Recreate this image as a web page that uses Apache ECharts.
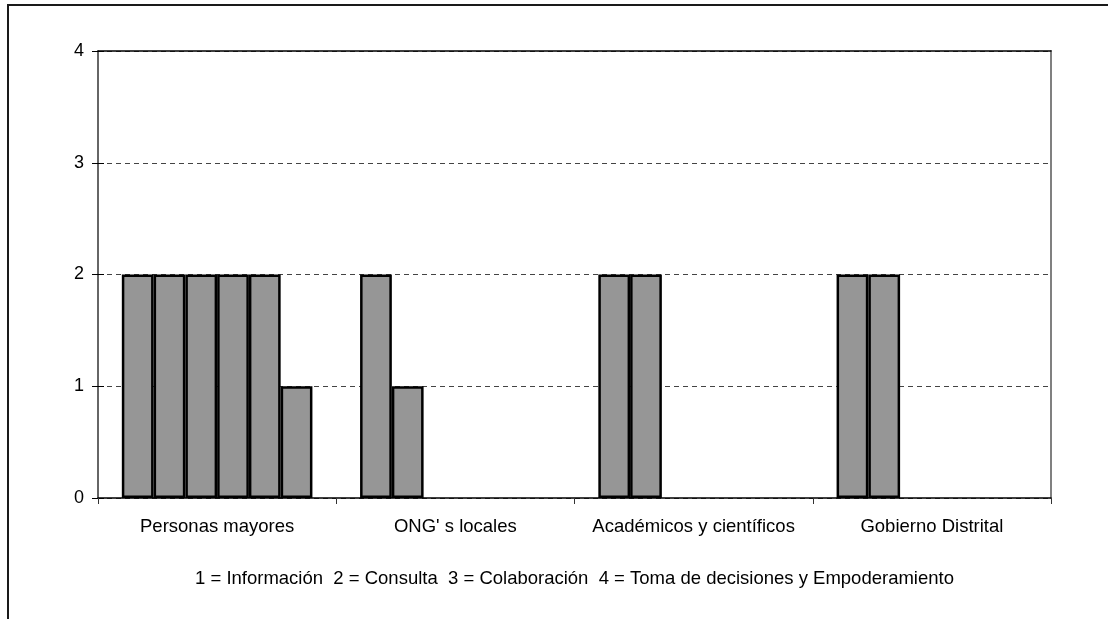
<!DOCTYPE html>
<html>
<head>
<meta charset="utf-8">
<script src="https://cdn.jsdelivr.net/npm/echarts@6/dist/echarts.min.js"></script>
<style>
  html, body { margin: 0; padding: 0; background: #fff; }
  #chart { width: 1108px; height: 619px; }
</style>
</head>
<body>
<div id="chart"></div>
<script>
// Participation level per stakeholder group (up to six actors each)
const categories = ['Personas mayores', "ONG' s locales", 'Académicos y científicos', 'Gobierno Distrital'];
const actor1 = [2, 2, 2, 2];
const actor2 = [2, 1, 2, 2];
const actor3 = [2, null, null, null];
const actor4 = [2, null, null, null];
const actor5 = [2, null, null, null];
const actor6 = [1, null, null, null];
const yTicks = [0, 1, 2, 3, 4];
const scaleNote = '1 = Información  2 = Consulta  3 = Colaboración  4 = Toma de decisiones y Empoderamiento';

const FONT = '"Liberation Sans", Arial, sans-serif';
const actors = [actor1, actor2, actor3, actor4, actor5, actor6];
const yMin = yTicks[0];
const yMax = yTicks[yTicks.length - 1];

const chart = echarts.init(document.getElementById('chart'), null, { renderer: 'canvas' });

chart.setOption({
  backgroundColor: '#ffffff',
  animation: false,
  grid: { left: 98, right: 57, top: 51, bottom: 121, containLabel: false },
  graphic: [{
    type: 'rect',
    shape: { x: 8, y: 5, width: 1300, height: 800 },
    style: { fill: 'none', stroke: '#1a1a1a', lineWidth: 2 },
    z: 100
  }],
  xAxis: [{
    type: 'category',
    data: categories,
    position: 'bottom',
    boundaryGap: true,
    axisLine: { onZero: false, lineStyle: { color: '#000', width: 1.5 } },
    axisTick: { show: true, length: 6, alignWithLabel: false, lineStyle: { color: '#333', width: 1 } },
    axisLabel: { color: '#000', fontSize: 18.5, fontFamily: FONT, margin: 19, interval: 0 },
    name: scaleNote,
    nameLocation: 'middle',
    nameGap: 71,
    nameTextStyle: { color: '#000', fontSize: 18.5, fontFamily: FONT }
  }, {
    type: 'category',
    data: categories,
    position: 'top',
    axisLine: { onZero: false, lineStyle: { color: '#000', width: 1.5 } },
    axisTick: { show: false },
    axisLabel: { show: false },
    z: 5
  }],
  yAxis: [{
    type: 'value',
    min: yMin,
    max: yMax,
    interval: 1,
    axisLine: { show: true, onZero: false, lineStyle: { color: '#333', width: 1.5 } },
    axisTick: { show: true, length: 6, lineStyle: { color: '#000', width: 1 } },
    axisLabel: { color: '#000', fontSize: 18, fontFamily: FONT, margin: 14 },
    splitLine: { show: true, lineStyle: { color: '#444', width: 1, type: [5, 4] } }
  }, {
    type: 'value',
    position: 'right',
    min: yMin,
    max: yMax,
    interval: 1,
    axisLine: { show: true, onZero: false, lineStyle: { color: '#808080', width: 2 } },
    axisTick: { show: false },
    axisLabel: { show: false },
    splitLine: { show: false }
  }, {
    // inner half of the crossing tick marks on the value axis
    type: 'value',
    position: 'left',
    min: yMin,
    max: yMax,
    interval: 1,
    axisLine: { show: false, onZero: false },
    axisTick: { show: true, inside: true, length: 6, lineStyle: { color: '#000', width: 1 } },
    axisLabel: { show: false },
    splitLine: { show: false }
  }],
  series: actors.map((vals, i) => ({
    type: 'bar',
    name: 'Actor ' + (i + 1),
    data: vals,
    xAxisIndex: 0,
    yAxisIndex: 0,
    barGap: '0%',
    barCategoryGap: '20%',
    itemStyle: { color: '#969696', borderColor: '#000', borderWidth: 2.5 }
  }))
});
</script>
</body>
</html>
